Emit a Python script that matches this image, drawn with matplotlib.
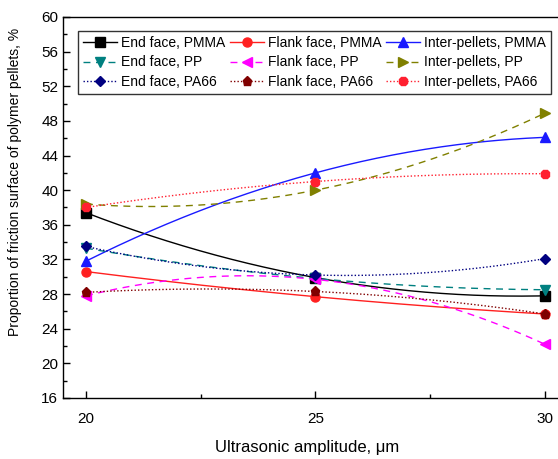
import numpy as np
import matplotlib
matplotlib.use("Agg")
import matplotlib.pyplot as plt
from matplotlib.ticker import MultipleLocator
from matplotlib.lines import Line2D

plt.rcParams['font.family'] = ['Liberation Sans', 'DejaVu Sans']

amplitude = [20, 25, 30]
end_pmma = [37.4, 29.9, 27.8]
flank_pmma = [30.6, 27.7, 25.7]
inter_pmma = [31.8, 42.0, 46.1]
end_pp = [33.3, 29.8, 28.5]
flank_pp = [27.8, 29.7, 22.2]
inter_pp = [38.4, 40.0, 48.9]
end_pa66 = [33.5, 30.2, 32.1]
flank_pa66 = [28.2, 28.3, 25.7]
inter_pa66 = [38.0, 41.0, 41.9]

series = [
    ("End face, PMMA", end_pmma, '#000000', '-', 's'),
    ("Flank face, PMMA", flank_pmma, '#ff2020', '-', 'o'),
    ("Inter-pellets, PMMA", inter_pmma, '#1a1aff', '-', '^'),
    ("End face, PP", end_pp, '#008080', (0, (5, 4)), 'v'),
    ("Flank face, PP", flank_pp, '#ff00ff', (0, (5, 4)), '<'),
    ("Inter-pellets, PP", inter_pp, '#808000', (0, (5, 4)), '>'),
    ("End face, PA66", end_pa66, '#000080', (0, (1, 1.5)), 'D'),
    ("Flank face, PA66", flank_pa66, '#800000', (0, (1, 1.5)), 'p'),
    ("Inter-pellets, PA66", inter_pa66, '#ff2030', (0, (1, 1.5)), '8'),
]

fig = plt.figure(figsize=(5.58, 4.59), dpi=100)
ax = fig.add_axes([0.1129, 0.1329, 0.905, 0.8301])

handles = []
for label, vals, c, ls, m in series:
    coef = np.polyfit(amplitude, vals, 2)
    xs = np.linspace(amplitude[0], amplitude[-1], 200)
    ms = 6.5 if m != 'D' else 5.5
    ax.plot(xs, np.polyval(coef, xs), color=c, ls=ls, lw=1.0)
    ax.plot(amplitude, vals, ls='none', marker=m, color=c, ms=ms,
            markeredgecolor=c)
    handles.append(Line2D([], [], color=c, ls=ls, lw=1.0, marker=m,
                          ms=ms, label=label))

# legend is filled row by row (3 columns)
order = [0, 3, 6, 1, 4, 7, 2, 5, 8]
handles = [handles[i] for i in order]

ax.set_xlim(19.5, 30.5)
ax.set_ylim(16, 60)
ax.xaxis.set_major_locator(MultipleLocator(5))
ax.xaxis.set_minor_locator(MultipleLocator(2.5))
ax.yaxis.set_major_locator(MultipleLocator(4))
ax.yaxis.set_minor_locator(MultipleLocator(2))
ax.tick_params(which='both', direction='in', labelsize=11, width=1)
ax.tick_params(which='major', length=5)
ax.tick_params(which='minor', length=3)
ax.tick_params(axis='x', pad=10)
for s in ax.spines.values():
    s.set_linewidth(1.0)

ax.set_xlabel("Ultrasonic amplitude, \u03bcm", fontsize=12)
ax.set_ylabel("Proportion of friction surface of polymer pellets, %", fontsize=10)
ax.xaxis.set_label_coords(0.483, -0.11)
ax.yaxis.set_label_coords(-0.082, 0.567)

leg = fig.legend(handles=handles, ncol=3, loc='upper left',
                 bbox_to_anchor=(0.14, 0.9325),
                 fontsize=10, frameon=True, fancybox=False, edgecolor='black',
                 handlelength=2.45, handletextpad=0.3, columnspacing=0.3,
                 borderaxespad=0, labelspacing=0.4, borderpad=0.35)
leg.get_frame().set_linewidth(1.0)

fig.savefig("out.png", dpi=100)
